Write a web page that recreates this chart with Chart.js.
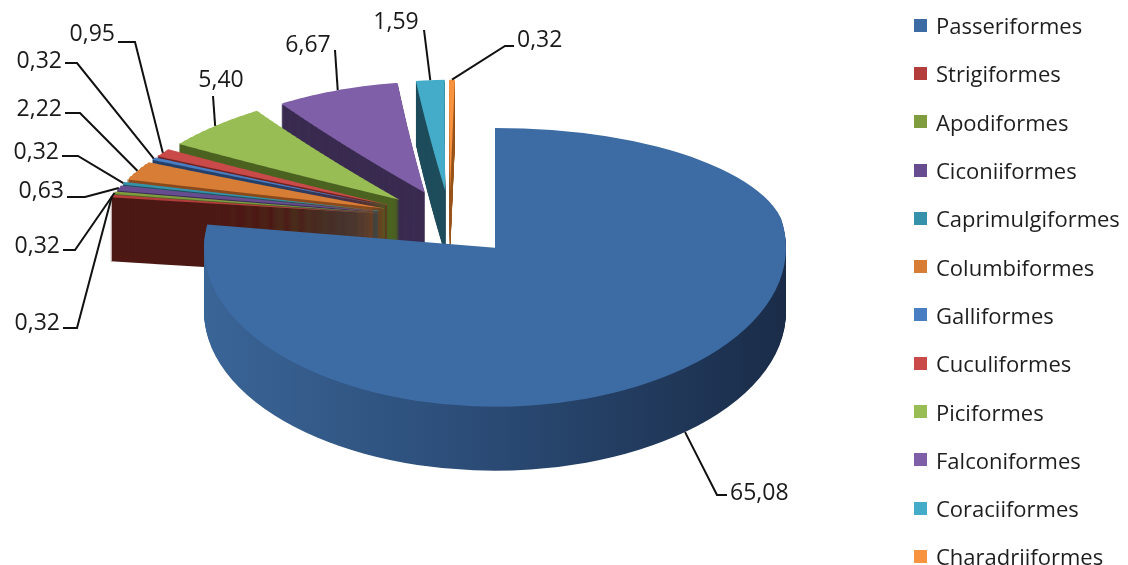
<!DOCTYPE html>
<html>
<head>
<meta charset="utf-8">
<title>Ordens</title>
<script src="https://cdn.jsdelivr.net/npm/chart.js@4.4.1/dist/chart.umd.min.js"></script>
<style>
  html, body { margin: 0; padding: 0; background: #fff; }
  #wrap { position: relative; width: 1128px; height: 565px; overflow: hidden; }
  #chart { position: absolute; left: 0; top: 0; }
  #legend {
    position: absolute; left: 914px; top: 1px; margin: 0; padding: 0; list-style: none;
    font-family: 'Open Sans', sans-serif; font-size: 22px; color: #1e1e1e;
  }
  #legend li { height: 48.3px; display: flex; align-items: center; white-space: nowrap; }
  #legend .box { width: 13px; height: 13px; margin-right: 9px; flex: none; }
</style>
</head>
<body>
<div id="wrap">
  <canvas id="chart" width="1128" height="565"></canvas>
  <ul id="legend"></ul>
</div>
<script>
const categories = ['Passeriformes', 'Strigiformes', 'Apodiformes', 'Ciconiiformes', 'Caprimulgiformes',
    'Columbiformes', 'Galliformes', 'Cuculiformes', 'Piciformes', 'Falconiformes', 'Coraciiformes', 'Charadriiformes'];
const shares = [65.08, 0.32, 0.32, 0.63, 0.32, 2.22, 0.32, 0.95, 5.40, 6.67, 1.59, 0.32];

const faceColours = ['#3d6ba3', '#b23d3b', '#7f9d3e', '#674d8f', '#3592aa', '#d87d36',
    '#4a7ec2', '#c94a48', '#98bd55', '#7f60a8', '#44acc8', '#f89340'];
const wallColours = [null, '#4d1915', '#4b5f24', '#3b2c55', '#1f5260', '#8b4a1c',
    '#25406a', '#6e2222', '#4c6221', '#3a2b50', '#1f4d5c', '#9a561e'];

// 3d look: centre, x radius, squash of the far and near halves, thickness, explosion (px),
// plus the narrowing of the far slices (x scale = farScale + farSlope * y)
const PIE = {
    cx: 448, cy: 218, rx: 291, tiltBack: 0.381, tiltFront: 0.546, depth: 64, explode: 72,
    farScale: 0.965, farSlope: 0.00035, band: 3
};

// where each value label sits and where its leader line bends
const labelLayout = [
    { x: 730, y: 493, align: 'left', elbow: [717, 495], fromBase: true },
    { x: 60, y: 323, align: 'right', elbow: [77, 328] },
    { x: 60, y: 246, align: 'right', elbow: [75, 250] },
    { x: 64, y: 191, align: 'right', elbow: [85, 197] },
    { x: 59, y: 152, align: 'right', elbow: [78, 156] },
    { x: 62, y: 109, align: 'right', elbow: [80, 113] },
    { x: 62, y: 61, align: 'right', elbow: [77, 63] },
    { x: 115, y: 34, align: 'right', elbow: [135, 42] },
    { x: 221, y: 80, align: 'center', elbow: [213, 96] },
    { x: 308, y: 45, align: 'center', elbow: [335, 50] },
    { x: 396, y: 22, align: 'center', elbow: [424, 30] },
    { x: 517, y: 40, align: 'left', elbow: [505, 46] }
];

const fmt = v => v.toFixed(2).replace('.', ',');
let pivotX = 0;   // x (from centre) of the big slice's upright edge

function sliceTransform(arc) {
    const r0 = arc.outerRadius;
    const sx = PIE.rx / r0;
    const mid = (arc.startAngle + arc.endAngle) / 2;
    const shift = PIE.explode / sx;
    return { r0, sx, mid, dx: Math.cos(mid) * shift, dy: Math.sin(mid) * shift };
}

const farFactor = wy => Math.min(1, PIE.farScale + PIE.farSlope * wy);

function withFill(arc, fill) {
    const view = Object.create(arc);
    view.options = Object.assign({}, arc.options, { backgroundColor: fill, borderColor: fill, borderWidth: 0 });
    return view;
}

// big slice: far half and near half get a different vertical squash
function drawBigSlice(ctx, arc, lift, fill) {
    const t = sliceTransform(arc);
    const view = withFill(arc, fill);
    const big = t.r0 * 4;
    [[PIE.tiltBack, -big, big + 1], [PIE.tiltFront, 0, big]].forEach(([tilt, top, h]) => {
        ctx.save();
        ctx.translate(PIE.cx, PIE.cy + lift);
        ctx.scale(t.sx, t.sx * tilt);
        ctx.beginPath();
        ctx.rect(-big, top, 2 * big, h);
        ctx.clip();
        ctx.translate(t.dx - arc.x, t.dy - arc.y);
        arc.draw.call(view, ctx);
        ctx.restore();
    });
}

// far slices: drawn in thin strips, each strip narrowed a little more with distance
function drawFarSlice(ctx, arc, lift, fill) {
    const t = sliceTransform(arc);
    const view = withFill(arc, fill);
    const base = PIE.cy + lift;
    let yMin = t.dy * t.sx, yMax = yMin;
    for (let s = 0; s <= 16; s++) {
        const a = arc.startAngle + (arc.endAngle - arc.startAngle) * s / 16;
        const wy = (t.dy + Math.sin(a) * t.r0) * t.sx;
        yMin = Math.min(yMin, wy);
        yMax = Math.max(yMax, wy);
    }
    const k0 = Math.max(0, Math.floor(-yMax * PIE.tiltBack / PIE.band) - 1);
    const k1 = Math.ceil(-yMin * PIE.tiltBack / PIE.band) + 1;
    for (let k = k0; k <= k1; k++) {
        const f = farFactor(-(PIE.band * (k + 0.5)) / PIE.tiltBack);
        ctx.save();
        ctx.beginPath();
        ctx.rect(0, base - PIE.band * (k + 1), ctx.canvas.width, PIE.band);
        ctx.clip();
        ctx.translate(PIE.cx + pivotX * (1 - f), base);
        ctx.scale(t.sx * f, t.sx * PIE.tiltBack);
        ctx.translate(t.dx - arc.x, t.dy - arc.y);
        arc.draw.call(view, ctx);
        ctx.restore();
    }
}

function drawSlice(ctx, arc, i, lift, fill) {
    if (i === 0) drawBigSlice(ctx, arc, lift, fill);
    else drawFarSlice(ctx, arc, lift, fill);
}

function project(arc, i, angle, lift) {
    const t = sliceTransform(arc);
    const wx = (t.dx + Math.cos(angle) * t.r0) * t.sx;
    const wy = (t.dy + Math.sin(angle) * t.r0) * t.sx;
    const f = i === 0 ? 1 : farFactor(wy);
    return {
        x: PIE.cx + pivotX + (wx - pivotX) * f,
        y: PIE.cy + lift + wy * (wy < 0 ? PIE.tiltBack : PIE.tiltFront)
    };
}

const pie3d = {
    id: 'pie3d',
    beforeDatasetsDraw(chart) {
        const ctx = chart.ctx;
        const arcs = chart.getDatasetMeta(0).data;
        const t0 = sliceTransform(arcs[0]);
        pivotX = t0.dx * t0.sx;
        const r0 = arcs[0].outerRadius;
        const sideGrad = ctx.createLinearGradient(arcs[0].x - r0, 0, arcs[0].x + r0, 0);
        sideGrad.addColorStop(0, '#3a6597');
        sideGrad.addColorStop(0.5, '#2a4a74');
        sideGrad.addColorStop(1, '#1a2c48');

        // side walls, deepest layer first
        for (let d = PIE.depth; d >= 1; d--) {
            arcs.forEach((arc, i) => drawSlice(ctx, arc, i, d, i === 0 ? sideGrad : wallColours[i]));
        }
        arcs.forEach((arc, i) => drawSlice(ctx, arc, i, 0, faceColours[i]));
        return false;
    }
};

const leaderLabels = {
    id: 'leaderLabels',
    afterDraw(chart) {
        const ctx = chart.ctx;
        const arcs = chart.getDatasetMeta(0).data;
        ctx.save();
        ctx.font = "23px 'Open Sans', sans-serif";
        ctx.textBaseline = 'middle';
        ctx.fillStyle = '#1a1a1a';
        ctx.strokeStyle = '#111';
        ctx.lineWidth = 2;
        arcs.forEach((arc, i) => {
            const lay = labelLayout[i];
            const mid = (arc.startAngle + arc.endAngle) / 2;
            const p = project(arc, i, mid, lay.fromBase ? PIE.depth : 0);
            ctx.beginPath();
            ctx.moveTo(p.x, p.y);
            ctx.lineTo(lay.elbow[0], lay.elbow[1]);
            if (lay.align === 'right') ctx.lineTo(lay.x + 3, lay.elbow[1]);
            if (lay.align === 'left') ctx.lineTo(lay.x - 3, lay.elbow[1]);
            ctx.stroke();
            ctx.textAlign = lay.align;
            ctx.fillText(fmt(shares[i]), lay.x, lay.y);
        });
        ctx.restore();
    }
};

const chart = new Chart(document.getElementById('chart'), {
    type: 'pie',
    data: {
        labels: categories,
        datasets: [{
            data: shares,
            backgroundColor: faceColours,
            borderWidth: 0
        }]
    },
    options: {
        responsive: false,
        animation: false,
        layout: { padding: 20 },
        plugins: {
            legend: { display: false },
            tooltip: { enabled: false }
        }
    },
    plugins: [pie3d, leaderLabels]
});

// legend on the right, built from the chart's own legend items
const legendList = document.getElementById('legend');
chart.options.plugins.legend.labels.generateLabels(chart).forEach(item => {
    const li = document.createElement('li');
    const box = document.createElement('span');
    box.className = 'box';
    box.style.background = item.fillStyle;
    li.appendChild(box);
    li.appendChild(document.createTextNode(item.text));
    legendList.appendChild(li);
});
</script>
</body>
</html>
